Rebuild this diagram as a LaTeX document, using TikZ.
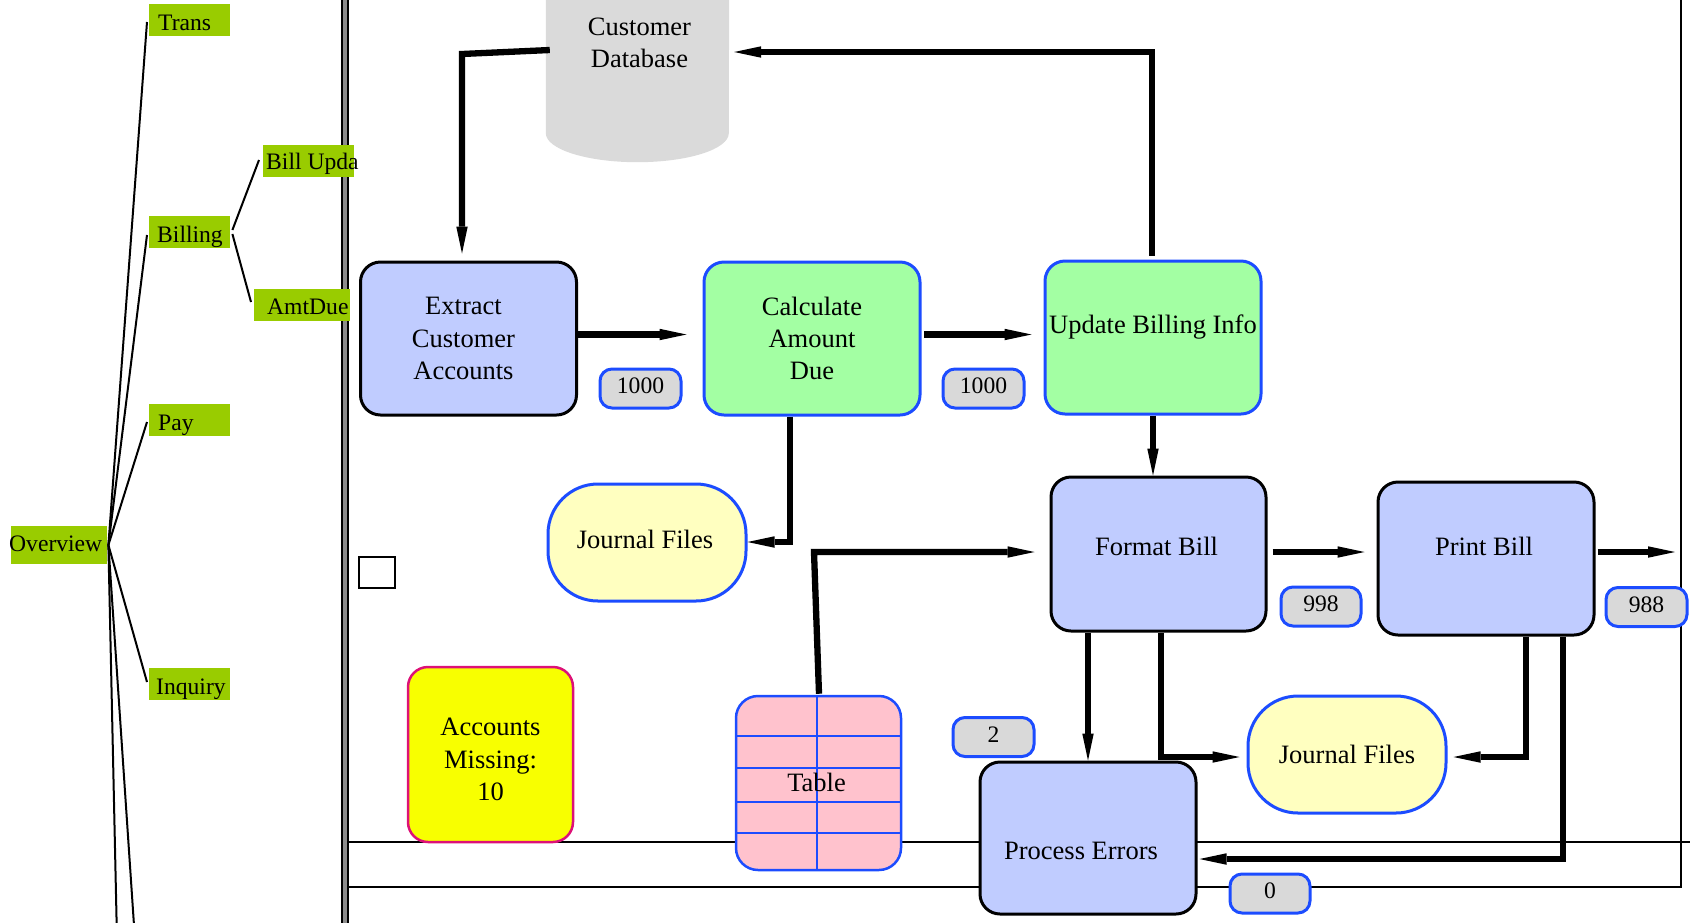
\documentclass[tikz,border=0pt]{standalone}
\usepackage{fontspec}
\setmainfont{Liberation Serif}
\usetikzlibrary{arrows.meta,calc}

\definecolor{treegreen}{RGB}{153,204,0}
\definecolor{procblue}{RGB}{192,204,255}
\definecolor{procgreen}{RGB}{163,255,163}
\definecolor{bordblue}{RGB}{28,76,255}
\definecolor{jyellow}{RGB}{255,255,192}
\definecolor{pillgrey}{RGB}{217,217,217}
\definecolor{dbgrey}{RGB}{218,218,218}
\definecolor{accyellow}{RGB}{248,255,0}
\definecolor{accborder}{RGB}{221,17,119}
\definecolor{tblpink}{RGB}{255,194,205}
\definecolor{lanegrey}{RGB}{140,140,140}

\begin{document}
\begin{tikzpicture}[x=1pt, y=-1pt,
  bigf/.style={font=\fontsize{26.5}{32.3}\selectfont},
  smallf/.style={font=\fontsize{23.6}{28}\selectfont},
  treelbl/.style={smallf, rectangle, fill=treegreen, inner sep=0pt,
    minimum height=32pt, anchor=west, text height=22pt, text depth=2pt},
  treeline/.style={line width=2pt, black},
  lane/.style={line width=2.3pt, black},
  procbox/.style={bigf, rectangle, rounded corners=20pt, line width=3pt,
    draw=black, fill=procblue, minimum width=216pt, minimum height=153pt,
    inner sep=0pt, align=center},
  calcbox/.style={procbox, draw=bordblue, fill=procgreen},
  journal/.style={bigf, rectangle, rounded corners=50pt, line width=3pt,
    draw=bordblue, fill=jyellow, minimum width=198pt, minimum height=117pt,
    inner sep=0pt},
  pill/.style={smallf, rectangle, rounded corners=12pt, line width=3pt,
    draw=bordblue, fill=pillgrey, minimum width=81pt, minimum height=39pt,
    inner sep=0pt, text height=16pt, text depth=6pt},
  flow/.style={line width=6.3pt,
    -{Triangle[length=27pt,width=11.5pt,line width=0pt]}},
]
\useasboundingbox (0,0) rectangle (1690,922);
\clip (0,0) rectangle (1690,922);

% swim lane frame
\draw[lane] (349,842) -- (1692,842);
\draw[lane] (349,887) -- (1681,887) -- (1681,-2);
\draw[line width=8pt, black] (345,-2) -- (345,924);
\draw[line width=3.2pt, lanegrey] (345,-2) -- (345,924);

% outline tree
\node[treelbl, minimum height=38pt, text depth=10pt] (ov) at (11,545) {\makebox[96pt][l]{\hspace{-2pt}Overview}};
\node[treelbl] (trans) at (149,20) {\makebox[81pt][l]{\hspace{9pt}Trans}};
\node[treelbl] (billing) at (149,232) {\makebox[81pt][l]{\hspace{8pt}Billing}};
\node[treelbl] (pay) at (149,420) {\makebox[81pt][l]{\hspace{9pt}Pay}};
\node[treelbl] (inq) at (149,684) {\makebox[81pt][l]{\hspace{7pt}Inquiry}};
\node[treelbl, text depth=5pt] (bu) at (263,161) {\makebox[91pt][l]{\hspace{3pt}Bill Upda}};
\node[treelbl, text depth=3pt] (ad) at (254,305) {\makebox[96pt][l]{\hspace{13pt}AmtDue}};
\coordinate (ovd1) at (117,940);
\coordinate (ovd2) at (135,940);

\draw[treeline] ($(ov.east)+(1,0)$) -- ($(trans.west)+(-2,2)$);
\draw[treeline] ($(ov.east)+(1,0)$) -- ($(billing.west)+(-2,3)$);
\draw[treeline] ($(ov.east)+(1,0)$) -- ($(pay.west)+(-2,2)$);
\draw[treeline] ($(ov.east)+(1,0)$) -- ($(inq.west)+(-2,-2)$);
\draw[treeline] ($(ov.east)+(1,0)$) -- (ovd1);
\draw[treeline] ($(ov.east)+(1,0)$) -- (ovd2);
\draw[treeline] ($(billing.east)+(2,-2)$) -- ($(bu.west)+(-4,-1)$);
\draw[treeline] ($(billing.east)+(2,2)$) -- ($(ad.west)+(-3,-3)$);

% customer database store
\node[bigf, rectangle, inner sep=0pt, minimum width=183pt, minimum height=173pt,
  align=center] (db) at (637.5,46.5) {};
\fill[dbgrey] (db.north west) -- (db.south west)
  arc[start angle=180, end angle=360, x radius=91.5pt, y radius=29pt]
  -- (db.north east) -- cycle;
\node[bigf, align=center] (dbt) at ($(db.center)+(2,-3.5)$) {Customer\\Database};

% process steps
\node[procbox] (ext) at (468.5,338.5) {};
\node[bigf, align=center] (extt) at ($(ext.center)+(-5,0)$) {Extract\\Customer\\Accounts};
\node[calcbox] (calc) at (812,338.5) {Calculate\\Amount\\Due};
\node[calcbox] (upd) at (1153,337.5) {};
\node[bigf] (updt) at ($(upd.center)+(0,-10)$) {Update Billing Info};
\node[procbox, minimum width=215pt, minimum height=154pt] (fmt) at (1158.5,554) {};
\node[bigf] (fmtt) at ($(fmt.center)+(-2,-8)$) {Format Bill};
\node[procbox] (prt) at (1486,558.5) {};
\node[bigf] (prtt) at ($(prt.center)+(-2,-12)$) {Print Bill};
\node[procbox, minimum height=152pt] (pe) at (1088,838) {};
\node[bigf] (pet) at ($(pe.center)+(-7,13)$) {Process Errors};

% journal files
\node[journal] (jf1) at (647,542.5) {};
\node[bigf] (jf1t) at ($(jf1.center)+(-2,-3)$) {Journal Files};
\node[journal] (jf2) at (1347,754.5) {Journal Files};

% counters
\node[pill] (c1000a) at (640.5,388.5) {1000};
\node[pill] (c1000b) at (983.5,388.5) {1000};
\node[pill, minimum width=80pt] (c998) at (1321,606.5) {998};
\node[pill] (c988) at (1646.5,607) {988};
\node[pill] (c2) at (993.5,737) {2};
\node[pill, minimum width=80pt] (c0) at (1270,893.5) {0};

% small empty box
\node[rectangle, draw=black, line width=2.2pt, fill=white, minimum width=36pt,
  minimum height=31pt, inner sep=0pt] (sq) at (377,572.5) {};

% accounts missing note
\node[bigf, rectangle, rounded corners=20pt, line width=2.5pt, draw=accborder,
  fill=accyellow, minimum width=165pt, minimum height=175pt, inner sep=0pt,
  align=center] (acc) at (490.5,754.5) {};
\node[bigf, align=center] (acct) at ($(acc.center)+(0,5)$) {Accounts\\Missing:\\10};

% table store
\node[rectangle, rounded corners=22pt, line width=2.5pt, draw=bordblue,
  fill=tblpink, minimum width=165pt, minimum height=174pt, inner sep=0pt,
  path picture={
    \coordinate (tnw) at (path picture bounding box.north west);
    \foreach \dy in {40,72,106,137}
      \draw[bordblue, line width=2.5pt] ($(tnw)+(0,\dy)$) -- ++(170,0);
    \draw[bordblue, line width=2.5pt] ($(tnw)+(81,0)$) -- ++(0,180);
  }] (tbl) at (818.5,783) {};
\node[bigf] (tblt) at ($(tbl.center)+(-2,-1)$) {Table};

% flows
\coordinate (k1) at (462,54);
\draw[flow] ($(db.west)+(4,3.5)$) -- (k1) -- ($(ext.north)+(-6.5,-7)$);
\draw[flow] ($(ext.east)+(0,-4)$) -- ($(calc.west)+(-16,-4)$);
\draw[flow] ($(calc.east)+(2.5,-4)$) -- ($(upd.west)+(-12,-3)$);
\coordinate (k2) at (1152,52);
\draw[flow] ($(upd.north)+(-1,-4)$) -- (k2) -- ($(db.east)+(5,5.5)$);
\coordinate (k3) at (790,542);
\draw[flow] ($(calc.south)+(-22,0)$) -- (k3) -- ($(jf1.east)+(0,-0.5)$);
\coordinate (k4) at (814,552);
\draw[flow] ($(tbl.north)+(0.5,-1)$) -- (k4) -- ($(fmt.west)+(-15,-2)$);
\draw[flow] (upd.south) -- ($(fmt.north)+(-5.5,0)$);
\draw[flow] ($(fmt.east)+(5,-2)$) -- ($(prt.west)+(-12,-6.5)$);
\coordinate (prtout) at (1675,552);
\draw[flow] ($(prt.east)+(2,-6.5)$) -- (prtout);
\draw[flow] ($(fmt.south)+(-70.5,0)$) -- ($(pe.north)+(0,0)$);
\coordinate (k5) at (1161,757);
\draw[flow] ($(fmt.south)+(2.5,0)$) -- (k5) -- ($(jf2.west)+(-7,2.5)$);
\coordinate (k6) at (1526,757);
\draw[flow] ($(prt.south)+(40,0)$) -- (k6) -- ($(jf2.east)+(6,2.5)$);
\coordinate (k7) at (1563,859);
\draw[flow] ($(prt.south)+(77,0)$) -- (k7) -- ($(pe.east)+(2,21)$);
\end{tikzpicture}
\end{document}
